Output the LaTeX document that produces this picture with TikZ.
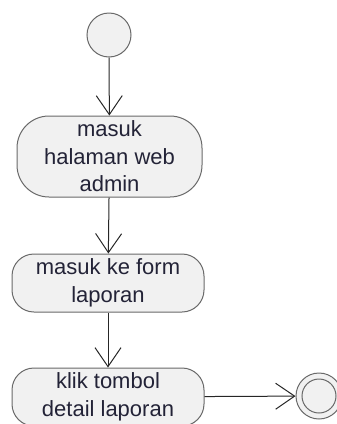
\documentclass[tikz,border=0pt]{standalone}
\usepackage{fontspec}
\setmainfont{Liberation Sans}
\usetikzlibrary{arrows.meta,positioning}
\definecolor{actfill}{RGB}{241,241,241}
\definecolor{actline}{RGB}{105,105,105}
\definecolor{acttext}{RGB}{35,35,55}

\begin{document}
\begin{tikzpicture}[x=1pt,y=-1pt,
    activity/.style={draw=actline,fill=actfill,line width=1pt,align=center,
        text=acttext,font=\fontsize{22}{27.5}\selectfont,inner sep=0pt},
    flow/.style={draw=black!85,line width=1pt,-{Straight Barb[length=19pt,width=26pt,line width=1pt]}}]
    \useasboundingbox (0,0) rectangle (337,424);

    % Start and end states
    \node[circle,draw=actline,fill=actfill,line width=1pt,minimum size=44pt,inner sep=0pt] (start) at (109,35) {};
    \node[circle,draw=actline,fill=actfill,line width=1pt,minimum size=46pt,inner sep=0pt] (finish) at (319,396) {};
    \draw[actline,line width=1pt] (finish.center) circle (17pt);

    % Activities
    \node[activity,rounded corners=32pt,minimum width=185pt,minimum height=81pt] (halaman) at (109.5,156.5)
        {masuk\\halaman web\\admin};
    \node[activity,rounded corners=22pt,minimum width=192pt,minimum height=58pt] (form) at (108,283)
        {masuk ke form\\laporan};
    \node[activity,rounded corners=22pt,minimum width=192pt,minimum height=58pt] (detail) at (108,397)
        {klik tombol\\detail laporan};

    % Flows
    \draw[flow] (start) -- (halaman);
    \draw[flow] (halaman) -- (form);
    \draw[flow] (form) -- (detail);
    \draw[flow] (detail) -- (finish);
\end{tikzpicture}
\end{document}
